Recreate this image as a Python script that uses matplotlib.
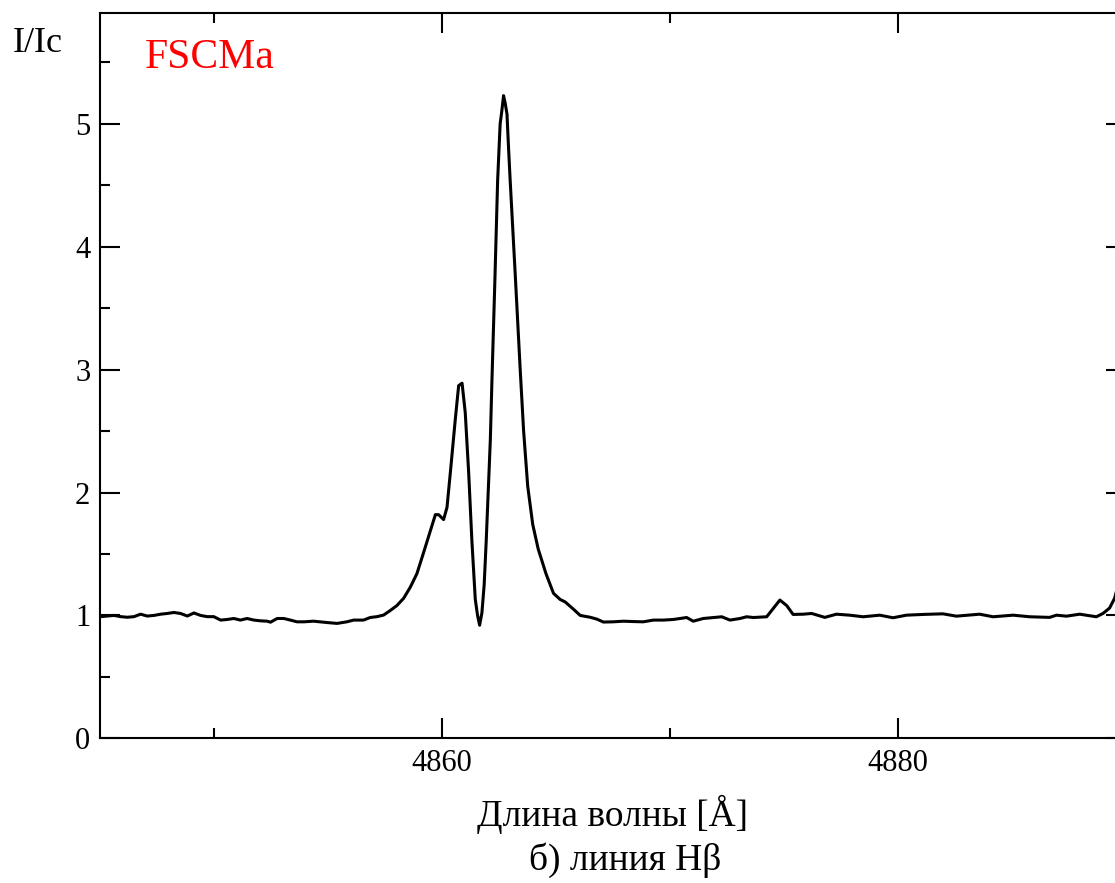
#!/usr/bin/env python3
"""H-beta line profile of FS CMa."""
import matplotlib
matplotlib.use('Agg')
import matplotlib.pyplot as plt
from matplotlib.ticker import MultipleLocator

plt.rcParams['font.family'] = ['Liberation Serif', 'DejaVu Serif']

# Wavelength (A) and normalized intensity
wave = [
    4845.03, 4845.32, 4845.61, 4845.91, 4846.20, 4846.49, 4846.78, 4847.07, 4847.37, 4847.66,
    4847.95, 4848.24, 4848.53, 4848.83, 4849.12, 4849.41, 4849.70, 4849.99, 4850.29, 4850.58,
    4850.87, 4851.16, 4851.45, 4851.75, 4852.04, 4852.33, 4852.48, 4852.77, 4853.06, 4853.35,
    4853.64, 4853.94, 4854.37, 4854.96, 4855.40, 4855.83, 4856.12, 4856.56, 4856.85, 4857.15,
    4857.44, 4857.73, 4858.02, 4858.32, 4858.61, 4858.90, 4859.19, 4859.49, 4859.71, 4859.85,
    4860.07, 4860.22, 4860.39, 4860.58, 4860.73, 4860.88, 4861.02, 4861.17, 4861.31, 4861.46,
    4861.56, 4861.65, 4861.75, 4861.85, 4861.94, 4862.05, 4862.12, 4862.19, 4862.32, 4862.44,
    4862.55, 4862.62, 4862.70, 4862.77, 4862.85, 4862.92, 4862.99, 4863.21, 4863.43, 4863.58,
    4863.76, 4863.98, 4864.22, 4864.56, 4864.89, 4865.18, 4865.40, 4865.77, 4866.06, 4866.50,
    4866.79, 4867.08, 4867.52, 4867.96, 4868.39, 4868.83, 4869.27, 4869.71, 4870.15, 4870.73,
    4871.02, 4871.46, 4871.90, 4872.27, 4872.63, 4873.07, 4873.36, 4873.66, 4874.24, 4874.53,
    4874.82, 4875.12, 4875.40, 4875.85, 4876.21, 4876.79, 4877.30, 4877.88, 4878.47, 4879.20,
    4879.78, 4880.37, 4881.10, 4881.97, 4882.56, 4883.58, 4884.17, 4885.05, 4885.78, 4886.65,
    4886.95, 4887.39, 4887.97, 4888.70, 4888.99, 4889.28, 4889.50, 4889.70, 4890.00,
]
flux = [
    0.990, 0.995, 1.000, 0.990, 0.985, 0.990, 1.010, 0.995, 1.000, 1.010,
    1.016, 1.024, 1.016, 0.995, 1.020, 1.000, 0.990, 0.990, 0.962, 0.967,
    0.975, 0.962, 0.975, 0.962, 0.956, 0.953, 0.945, 0.975, 0.975, 0.962,
    0.948, 0.948, 0.953, 0.942, 0.935, 0.948, 0.962, 0.962, 0.983, 0.990,
    1.003, 1.040, 1.080, 1.140, 1.230, 1.340, 1.510, 1.690, 1.820, 1.820,
    1.780, 1.880, 2.210, 2.590, 2.870, 2.890, 2.650, 2.160, 1.610, 1.130,
    1.000, 0.920, 1.020, 1.250, 1.610, 2.100, 2.430, 2.910, 3.730, 4.540,
    5.000, 5.100, 5.230, 5.170, 5.080, 4.800, 4.540, 3.780, 3.000, 2.500,
    2.050, 1.740, 1.540, 1.340, 1.180, 1.130, 1.110, 1.050, 1.000, 0.985,
    0.970, 0.946, 0.948, 0.953, 0.950, 0.948, 0.962, 0.962, 0.967, 0.983,
    0.953, 0.975, 0.983, 0.989, 0.962, 0.975, 0.989, 0.983, 0.989, 1.057,
    1.125, 1.080, 1.008, 1.010, 1.016, 0.984, 1.010, 1.002, 0.989, 1.002,
    0.981, 1.002, 1.008, 1.013, 0.994, 1.010, 0.989, 1.002, 0.989, 0.984,
    1.002, 0.994, 1.010, 0.989, 1.016, 1.060, 1.140, 1.280, 1.450,
]

fig = plt.figure(figsize=(11.15, 8.83), dpi=100)
# axes run past the right edge of the image, as in the original
ax = fig.add_axes([100/1115, 144.7/883, 1026/1115, 725/883])

ax.plot(wave, flux, color='black', linewidth=2.2)

ax.set_xlim(4845, 4890)
ax.set_ylim(0, 5.9)
ax.xaxis.set_major_locator(MultipleLocator(20))
ax.xaxis.set_minor_locator(MultipleLocator(10))
ax.yaxis.set_major_locator(MultipleLocator(1))
ax.yaxis.set_minor_locator(MultipleLocator(0.5))
ax.tick_params(which='both', direction='in', top=True, right=True, width=1.5,
               labelsize=22)
ax.tick_params(which='major', length=14.5)
ax.tick_params(which='minor', length=7.2)
ax.tick_params(axis='x', which='major', pad=8)
ax.tick_params(axis='y', which='major', pad=7)
for s in ax.spines.values():
    s.set_linewidth(1.5)

ax.set_xlabel('Длина волны [Å]', fontsize=27, labelpad=12)
fig.text(38/1115, 1 - 43/883, 'I/Ic', fontsize=26, ha='center', va='center')
fig.text(145/1115, 1 - 58/883, 'FSCMa', fontsize=30, color='red', ha='left', va='center')
fig.text(625/1115, 1 - 860/883, 'б) линия Hβ', fontsize=27, ha='center', va='center')

fig.savefig('out.png', dpi=100)
